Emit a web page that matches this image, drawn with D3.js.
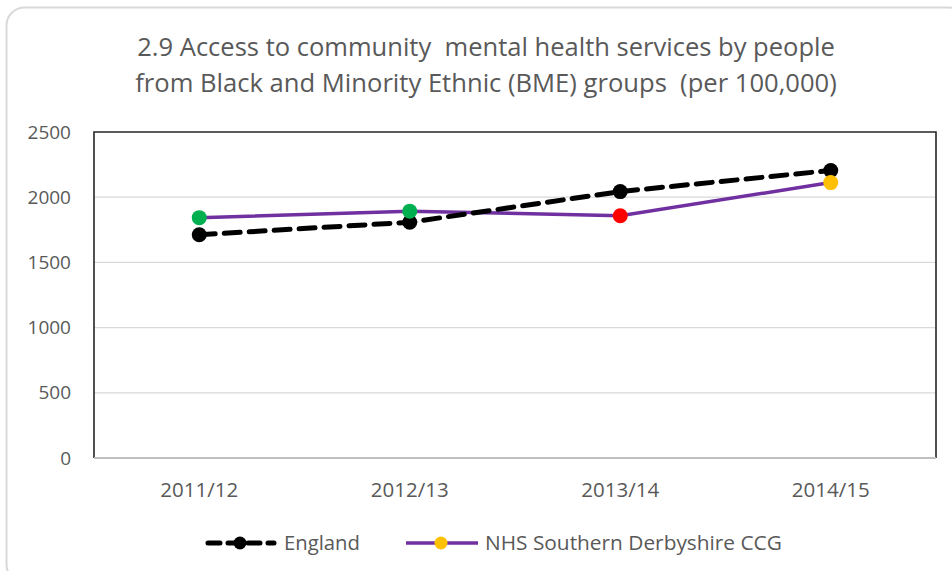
<!DOCTYPE html>
<html>
<head>
<meta charset="utf-8">
<script src="https://cdn.jsdelivr.net/npm/d3@7"></script>
<style>
html,body{margin:0;padding:0;background:#fff;}
svg{display:block;}
</style>
</head>
<body>
<svg id="chart" width="952" height="571"></svg>
<script>
const categories = ["2011/12", "2012/13", "2013/14", "2014/15"];
const englandValues = [1712, 1808, 2043, 2205];
const ccgValues = [1843, 1893, 1858, 2112];
const ccgPointColors = ["#00B050", "#00B050", "#FF0000", "#FFC000"];
const yTicks = [0, 500, 1000, 1500, 2000, 2500];
const titleLines = ["2.9 Access to community  mental health services by people",
                    "from Black and Minority Ethnic (BME) groups  (per 100,000)"];
const seriesNames = ["England", "NHS Southern Derbyshire CCG"];

const svg = d3.select("#chart");
const FONT = "'Open Sans', sans-serif";
const TXT = "#595959";

function fit(el, base, target) {
  const w = el.node().getComputedTextLength();
  if (w > 0) el.attr("font-size", base * target / w);
}

// outer chart frame
svg.append("rect").attr("x", 6.5).attr("y", 7.5).attr("width", 960).attr("height", 575)
  .attr("rx", 18).attr("fill", "#fff").attr("stroke", "#d9d9d9").attr("stroke-width", 2);

const plot = {left: 94, right: 936, top: 132, bottom: 458};

const x = d3.scaleBand().domain(categories).range([plot.left, plot.right]);
const y = d3.scaleLinear().domain([0, 2500]).range([plot.bottom, plot.top]);

// title
titleLines.forEach((t, i) => {
  const el = svg.append("text").attr("x", 486).attr("y", 56 + i * 36)
    .attr("text-anchor", "middle").attr("font-family", FONT).attr("font-size", 24)
    .attr("fill", TXT).style("white-space", "pre").text(t);
  fit(el, 24, i === 0 ? 698 : 702);
});

// gridlines
svg.append("g").selectAll("line").data(yTicks.filter(d => d > 0 && d < 2500)).join("line")
  .attr("x1", plot.left).attr("x2", plot.right)
  .attr("y1", d => y(d)).attr("y2", d => y(d))
  .attr("stroke", "#d9d9d9").attr("stroke-width", 1.3);

// plot frame
svg.append("path")
  .attr("d", `M${plot.left},${plot.bottom} V${plot.top} H${plot.right} V${plot.bottom}`)
  .attr("fill", "none").attr("stroke", "#262626").attr("stroke-width", 1.6);
svg.append("line").attr("x1", plot.left).attr("x2", plot.right)
  .attr("y1", plot.bottom).attr("y2", plot.bottom)
  .attr("stroke", "#bfbfbf").attr("stroke-width", 2);

// y axis labels
const yAxis = d3.axisLeft(y).tickValues(yTicks).tickFormat(d3.format("d")).tickSize(0).tickPadding(23);
const gy = svg.append("g").attr("transform", `translate(${plot.left},0)`).call(yAxis);
gy.select(".domain").remove();
gy.selectAll("text").attr("font-family", FONT).attr("font-size", 19).attr("fill", TXT);

// x axis labels
const xAxis = d3.axisBottom(x).tickSize(0).tickPadding(24);
const gx = svg.append("g").attr("transform", `translate(0,${plot.bottom})`).call(xAxis);
gx.select(".domain").remove();
gx.selectAll("text").attr("font-family", FONT).attr("font-size", 20.5).attr("fill", TXT);

const cx = d => x(d) + x.bandwidth() / 2;

const engData = categories.map((c, i) => ({c, v: englandValues[i]}));
const ccgData = categories.map((c, i) => ({c, v: ccgValues[i], col: ccgPointColors[i]}));
const line = d3.line().x(d => cx(d.c)).y(d => y(d.v));

svg.append("path").datum(ccgData).attr("d", line)
  .attr("fill", "none").attr("stroke", "#7030A0").attr("stroke-width", 3.5);
svg.append("path").datum(engData).attr("d", line)
  .attr("fill", "none").attr("stroke", "#000").attr("stroke-width", 5)
  .attr("stroke-dasharray", "16 9").attr("stroke-linecap", "round");

svg.append("g").selectAll("circle").data(engData).join("circle")
  .attr("cx", d => cx(d.c)).attr("cy", d => y(d.v)).attr("r", 7.5).attr("fill", "#000");
svg.append("g").selectAll("circle").data(ccgData).join("circle")
  .attr("cx", d => cx(d.c)).attr("cy", d => y(d.v)).attr("r", 7.5).attr("fill", d => d.col);

// legend
const lg = svg.append("g");
const ly = 543;
lg.append("line").attr("x1", 208).attr("x2", 274).attr("y1", ly).attr("y2", ly)
  .attr("stroke", "#000").attr("stroke-width", 5).attr("stroke-dasharray", "12 8")
  .attr("stroke-linecap", "round");
lg.append("circle").attr("cx", 240).attr("cy", ly).attr("r", 6.5).attr("fill", "#000");
const t1 = lg.append("text").attr("x", 284).attr("y", ly + 7).text(seriesNames[0])
  .attr("font-family", FONT).attr("font-size", 19).attr("fill", TXT);
fit(t1, 19, 76);
lg.append("line").attr("x1", 406).attr("x2", 478).attr("y1", ly).attr("y2", ly)
  .attr("stroke", "#7030A0").attr("stroke-width", 3.5);
lg.append("circle").attr("cx", 441).attr("cy", ly).attr("r", 6.5).attr("fill", "#FFC000");
const t2 = lg.append("text").attr("x", 485).attr("y", ly + 7).text(seriesNames[1])
  .attr("font-family", FONT).attr("font-size", 19).attr("fill", TXT);
fit(t2, 19, 297);
</script>
</body>
</html>
